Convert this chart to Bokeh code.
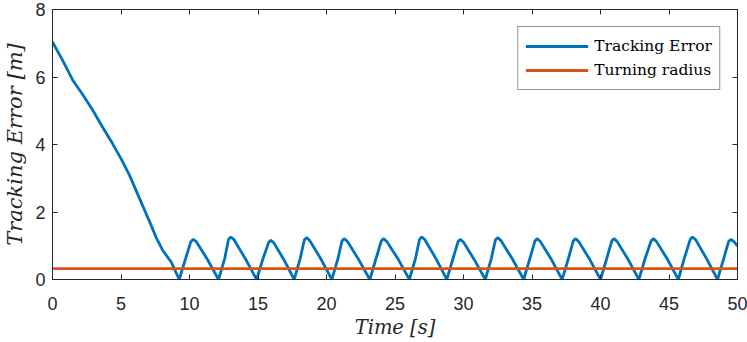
from bokeh.plotting import figure
from bokeh.models import LinearAxis, Range1d, FixedTicker, Legend, LegendItem
from bokeh.embed import file_html
from bokeh.resources import INLINE

# Tracking error series (time [s], error [m])
time_s = [0, 0.73, 1.46, 2.2, 2.93, 3.66, 4.39, 5.0, 5.61, 6.34, 7.07, 7.56, 8.05, 8.66, 9.25,
          9.7, 10.1, 10.27, 10.5, 11.3, 12.12,
          12.57, 12.85, 13.02, 13.25, 14.1, 14.9,
          15.35, 15.78, 15.94, 16.15, 16.9, 17.64,
          18.08, 18.38, 18.54, 18.77, 19.6, 20.39,
          20.83, 21.13, 21.29, 21.52, 22.35, 23.16,
          23.6, 24.0, 24.16, 24.39, 25.25, 26.05,
          26.5, 26.79, 26.95, 27.18, 28.0, 28.78,
          29.22, 29.6, 29.76, 29.99, 30.8, 31.59,
          32.03, 32.33, 32.49, 32.72, 33.58, 34.39,
          34.83, 35.21, 35.37, 35.6, 36.42, 37.2,
          37.64, 38.01, 38.17, 38.4, 39.22, 40.0,
          40.44, 40.82, 40.98, 41.21, 42.02, 42.8,
          43.24, 43.69, 43.85, 44.08, 44.9, 45.68,
          46.12, 46.55, 46.71, 46.94, 47.75, 48.54,
          48.98, 49.35, 49.51, 49.74, 50.0]
tracking_error = [7.04, 6.5, 5.92, 5.48, 5.02, 4.51, 4.02, 3.58, 3.10, 2.41, 1.73, 1.25, 0.86, 0.52, 0.0,
                  0.6, 1.12, 1.19, 1.12, 0.6, 0.0,
                  0.62, 1.19, 1.26, 1.18, 0.6, 0.0,
                  0.6, 1.1, 1.16, 1.09, 0.58, 0.0,
                  0.62, 1.17, 1.24, 1.16, 0.6, 0.0,
                  0.61, 1.14, 1.21, 1.13, 0.59, 0.0,
                  0.6, 1.14, 1.21, 1.13, 0.59, 0.0,
                  0.63, 1.19, 1.26, 1.18, 0.61, 0.0,
                  0.6, 1.12, 1.19, 1.11, 0.58, 0.0,
                  0.62, 1.17, 1.24, 1.16, 0.6, 0.0,
                  0.6, 1.14, 1.21, 1.13, 0.59, 0.0,
                  0.6, 1.14, 1.21, 1.13, 0.59, 0.0,
                  0.6, 1.14, 1.21, 1.13, 0.59, 0.0,
                  0.6, 1.14, 1.21, 1.13, 0.59, 0.0,
                  0.63, 1.19, 1.26, 1.18, 0.61, 0.0,
                  0.6, 1.12, 1.19, 1.12, 0.99]

turning_time = [0, 50]
turning_radius = [0.32, 0.32]

x_ticks = [0, 5, 10, 15, 20, 25, 30, 35, 40, 45, 50]
y_ticks = [0, 2, 4, 6, 8]

AX = "#262626"
TICK_FONT = "Liberation Sans"

p = figure(width=747, height=342, output_backend="svg", toolbar_location=None,
           x_range=Range1d(0, 50), y_range=Range1d(0, 8),
           min_border_left=52, min_border_right=10, min_border_top=9, min_border_bottom=63)
p.grid.visible = False
p.outline_line_color = None

for ax, ticks in ((p.xaxis[0], x_ticks), (p.yaxis[0], y_ticks)):
    ax.ticker = FixedTicker(ticks=ticks)
    ax.major_tick_in = 5
    ax.major_tick_out = 0
    ax.minor_tick_in = 0
    ax.minor_tick_out = 0
    ax.axis_line_color = AX
    ax.major_tick_line_color = AX
    ax.major_label_text_font = TICK_FONT
    ax.major_label_text_font_size = "18px"
    ax.major_label_text_color = AX
    ax.axis_label_text_font = "DejaVu Serif"
    ax.axis_label_text_font_style = "italic"
    ax.axis_label_text_color = AX

p.xaxis.axis_label = "Time [s]"
p.yaxis.axis_label = "Tracking Error [m]"
p.xaxis.axis_label_text_font_size = "19.5px"
p.yaxis.axis_label_text_font_size = "21px"
p.xaxis.major_label_standoff = 17
p.xaxis.axis_label_standoff = 3
p.yaxis.major_label_standoff = 7
p.yaxis.axis_label_standoff = 5

top = LinearAxis(ticker=FixedTicker(ticks=x_ticks), major_label_text_font_size="0px",
                 major_label_standoff=0, major_tick_in=5, major_tick_out=0,
                 minor_tick_in=0, minor_tick_out=0, axis_line_color=AX, major_tick_line_color=AX)
right = LinearAxis(ticker=FixedTicker(ticks=y_ticks), major_label_text_font_size="0px",
                   major_label_standoff=0, major_tick_in=5, major_tick_out=0,
                   minor_tick_in=0, minor_tick_out=0, axis_line_color=AX, major_tick_line_color=AX)
p.add_layout(top, "above")
p.add_layout(right, "right")

r1 = p.line(time_s, tracking_error, line_color="#0072BD", line_width=2.8)
r2 = p.line(turning_time, turning_radius, line_color="#D95319", line_width=2.8)

legend = Legend(items=[LegendItem(label="Tracking Error", renderers=[r1]),
                       LegendItem(label="Turning radius", renderers=[r2])],
                location="top_right", margin=17,
                label_text_font="DejaVu Serif", label_text_font_size="15.5px",
                label_text_color="#000000",
                glyph_width=63, glyph_height=24, label_height=24, label_standoff=6,
                padding=7, spacing=0,
                border_line_color=AX, border_line_width=1,
                background_fill_color="white", background_fill_alpha=1)
p.add_layout(legend, "center")

open("out.html", "w").write(file_html(p, INLINE))
